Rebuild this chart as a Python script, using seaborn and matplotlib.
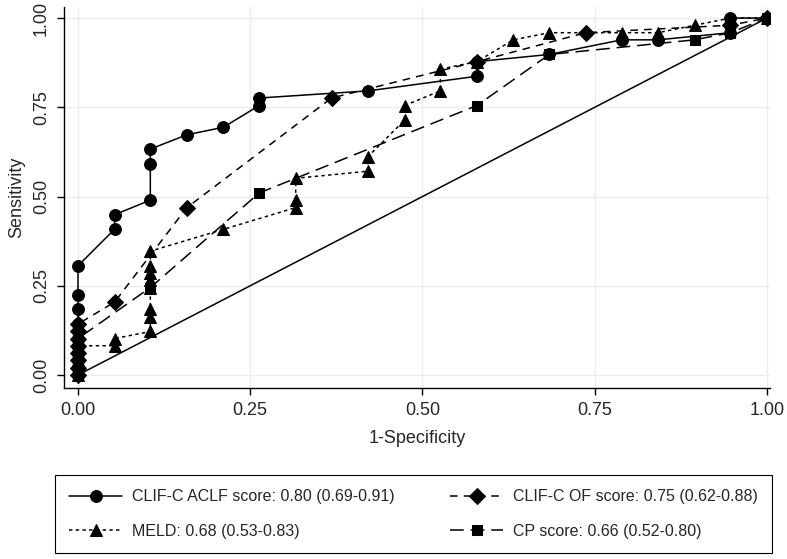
import matplotlib
matplotlib.use("Agg")
import matplotlib.pyplot as plt
import seaborn as sns

# -------------------------------
# ROC DATA
# -------------------------------

aclf_fpr = [0, 0, 0, 0, 0, 0, 0, 0, 0, 0, 0,
            0.053, 0.053, 0.105, 0.105, 0.105, 0.158, 0.211, 0.263, 0.263,
            0.421, 0.579, 0.579, 0.684, 0.789, 0.842, 0.947, 0.947, 0.947, 1.0]
aclf_tpr = [0, 0.020, 0.041, 0.061, 0.082, 0.102, 0.122, 0.143, 0.184, 0.224, 0.306,
            0.408, 0.449, 0.490, 0.592, 0.633, 0.673, 0.694, 0.755, 0.776,
            0.796, 0.837, 0.878, 0.898, 0.939, 0.939, 0.959, 0.980, 1.0, 1.0]

of_fpr = [0, 0, 0, 0, 0, 0, 0, 0,
          0.053, 0.158, 0.368, 0.579, 0.737, 0.947, 1.0]
of_tpr = [0, 0.020, 0.041, 0.061, 0.082, 0.102, 0.122, 0.143,
          0.204, 0.469, 0.776, 0.878, 0.959, 0.980, 1.0]

meld_fpr = [0, 0, 0, 0, 0,
            0.053, 0.053,
            0.105, 0.105, 0.105, 0.105, 0.105, 0.105, 0.105, 0.105,
            0.211, 0.316, 0.316, 0.316, 0.421, 0.421, 0.474, 0.474,
            0.526, 0.526, 0.579, 0.632, 0.684, 0.789, 0.842, 0.895, 0.947, 1.0]
meld_tpr = [0, 0.020, 0.041, 0.061, 0.082,
            0.082, 0.102,
            0.122, 0.163, 0.184, 0.245, 0.265, 0.286, 0.306, 0.347,
            0.408, 0.469, 0.490, 0.551, 0.571, 0.612, 0.714, 0.755,
            0.796, 0.857, 0.878, 0.939, 0.959, 0.959, 0.959, 0.980, 1.0, 1.0]

cp_fpr = [0, 0, 0, 0, 0, 0,
          0.105, 0.263, 0.579, 0.684, 0.895, 0.947, 1.0]
cp_tpr = [0, 0.020, 0.041, 0.061, 0.082, 0.102,
          0.245, 0.510, 0.755, 0.898, 0.939, 0.959, 1.0]

ref_line = [0, 1]

labels = ["CLIF-C ACLF score: 0.80 (0.69-0.91)",
          "CLIF-C OF score: 0.75 (0.62-0.88)",
          "MELD: 0.68 (0.53-0.83)",
          "CP score: 0.66 (0.52-0.80)"]
ticks = [0, 0.25, 0.5, 0.75, 1.0]
tick_labels = ["0.00", "0.25", "0.50", "0.75", "1.00"]

# -------------------------------
# PLOT
# -------------------------------

sns.set_style("white")
plt.rcParams['font.family'] = ['Liberation Sans', 'DejaVu Sans']

fig = plt.figure(figsize=(7.87, 5.59), dpi=100)
ax = fig.add_axes([64 / 787, 1 - 388 / 559, (770 - 64) / 787, (388 - 7) / 559])

lw = 1.1
sns.lineplot(x=ref_line, y=ref_line, color="black", lw=lw, ax=ax)

series = [
    (aclf_fpr, aclf_tpr, labels[0], "-", "o", 8.5),
    (of_fpr, of_tpr, labels[1], (0, (5, 4)), "D", 8),
    (meld_fpr, meld_tpr, labels[2], (0, (2.2, 2.2)), "^", 9),
    (cp_fpr, cp_tpr, labels[3], (0, (9, 4.5)), "s", 7.5),
]
handles = []
for fx, ty, lab, ls, mk, ms in series:
    sns.lineplot(x=fx, y=ty, sort=False, estimator=None, color="black",
                 linestyle=ls, lw=lw, marker=mk, markersize=ms,
                 markeredgecolor="black", markerfacecolor="black",
                 label=lab, ax=ax)
    handles.append(ax.get_lines()[-1])

if ax.get_legend() is not None:
    ax.get_legend().remove()

ax.set_xlim(-0.0203, 1.0044)
ax.set_ylim(-0.0364, 1.031)
ax.set_xticks(ticks)
ax.set_xticklabels(tick_labels)
ax.set_yticks(ticks)
ax.set_yticklabels(tick_labels, rotation=90, va="center")
ax.tick_params(direction="out", length=5, width=1, color="black",
               labelsize=13, pad=5, left=True, bottom=True)
ax.grid(True, color="#ececec", lw=1)
ax.set_axisbelow(True)
for side in ["top", "right"]:
    ax.spines[side].set_visible(False)
for side in ["left", "bottom"]:
    ax.spines[side].set_color("black")
    ax.spines[side].set_linewidth(1)

ax.set_xlabel("1-Specificity", fontsize=13, labelpad=8)
ax.set_ylabel("Sensitivity", fontsize=13, labelpad=6)

# legend order: matplotlib fills columns first
order = [0, 2, 1, 3]
leg = fig.legend([handles[i] for i in order], [labels[i] for i in order],
                 ncol=2, loc="center", mode="expand",
                 bbox_to_anchor=(47 / 787, 4 / 559, 733 / 787, 82 / 559),
                 fontsize=11.5, handlelength=3.3, handletextpad=0.6,
                 labelspacing=1.2, borderpad=0.9, columnspacing=2.0,
                 frameon=True, fancybox=False, framealpha=1,
                 edgecolor="black")
leg.get_frame().set_linewidth(0.8)

plt.savefig("out.png", dpi=100)
plt.close()
